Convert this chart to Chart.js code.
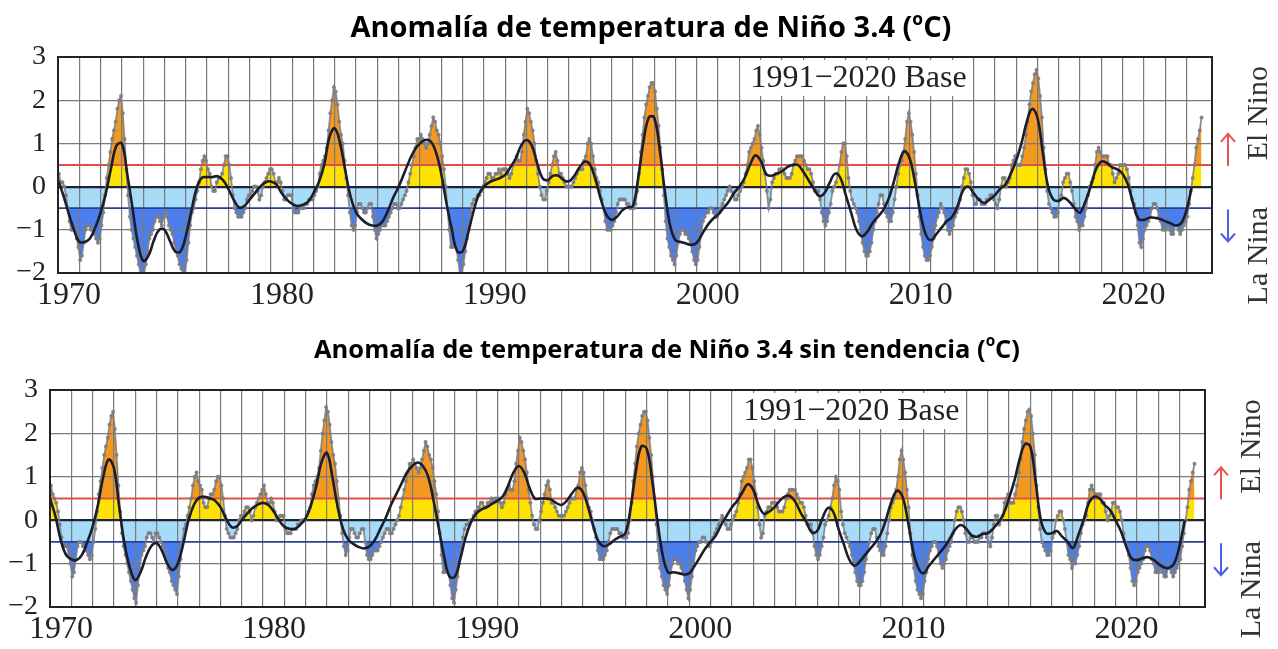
<!DOCTYPE html>
<html lang="es">
<head>
<meta charset="UTF-8">
<title>Anomalía de temperatura de Niño 3.4</title>
<script src="https://cdn.jsdelivr.net/npm/chart.js"></script>
<style>
  body { margin: 0; background: #fff; }
  .wrap { position: relative; width: 1278px; height: 649px; overflow: hidden; }
  canvas { position: absolute; left: 0; }
  .title { position: absolute; transform: translateX(-50%); white-space: nowrap;
           font-family: "Open Sans", Lato, sans-serif; font-weight: 700; line-height: 1; color: #000; }
  .title sup { font-size: 0.6em; position: relative; top: -0.1em; }
</style>
</head>
<body>
<div class="wrap">
  <canvas id="topChart" width="1278" height="322" style="top:0"></canvas>
  <canvas id="detrChart" width="1278" height="327" style="top:322px"></canvas>
  <div class="title" style="left:651px; top:11px; font-size:29px">Anomalía de temperatura de Niño 3.4 (<sup>o</sup>C)</div>
  <div class="title" style="left:667px; top:335px; font-size:25.5px">Anomalía de temperatura de Niño 3.4 sin tendencia (<sup>o</sup>C)</div>
</div>
<script>
// monthly anomalies, Jan 1970 .. Sep 2023 (grey dots), one row per year
const monthStart = 1970;
const rawTop = [
  0.3,0.1,0.1,0.0,-0.2,-0.5,-0.8,-1.0,-1.0,-1.0,-1.2,-1.4,
  -1.7,-1.6,-1.3,-1.0,-0.9,-0.9,-1.0,-1.0,-1.1,-1.2,-1.3,-1.2,
  -0.9,-0.6,-0.2,0.2,0.5,0.8,1.1,1.3,1.5,1.8,2.0,2.1,
  1.7,1.1,0.4,-0.2,-0.7,-1.0,-1.2,-1.4,-1.6,-1.8,-2.0,-2.1,
  -2.0,-1.8,-1.5,-1.2,-1.1,-1.0,-0.8,-0.7,-0.7,-0.8,-0.9,-0.7,
  -0.6,-0.7,-0.9,-1.0,-1.1,-1.3,-1.5,-1.6,-1.8,-1.9,-2.0,-2.0,
  -1.7,-1.3,-0.9,-0.6,-0.5,-0.3,-0.1,0.1,0.4,0.6,0.7,0.6,
  0.4,0.3,0.0,-0.1,-0.1,0.1,0.2,0.2,0.3,0.5,0.7,0.7,
  0.5,0.2,-0.2,-0.5,-0.6,-0.7,-0.7,-0.7,-0.6,-0.5,-0.3,-0.2,
  -0.2,-0.1,0.0,0.0,-0.1,-0.3,-0.2,0.0,0.1,0.2,0.3,0.4,
  0.4,0.3,0.1,0.1,0.2,0.1,-0.1,-0.3,-0.3,-0.2,-0.2,-0.2,
  -0.5,-0.6,-0.6,-0.6,-0.5,-0.5,-0.5,-0.4,-0.4,-0.3,-0.3,-0.3,
  -0.2,-0.1,0.0,0.3,0.5,0.6,0.7,0.9,1.3,1.7,2.0,2.3,
  2.2,1.9,1.5,1.2,1.0,0.6,0.2,-0.2,-0.6,-0.9,-1.0,-0.9,
  -0.6,-0.4,-0.4,-0.5,-0.6,-0.6,-0.5,-0.4,-0.4,-0.7,-1.0,-1.2,
  -1.1,-1.0,-0.9,-0.9,-0.9,-0.8,-0.7,-0.6,-0.5,-0.4,-0.4,-0.5,
  -0.5,-0.4,-0.3,-0.2,-0.1,0.1,0.3,0.5,0.7,0.9,1.1,1.1,
  1.2,1.1,1.0,0.9,1.0,1.2,1.4,1.6,1.5,1.3,1.2,1.0,
  0.7,0.4,0.0,-0.5,-1.0,-1.4,-1.4,-1.3,-1.4,-1.7,-2.0,-2.0,
  -1.8,-1.5,-1.2,-0.9,-0.6,-0.4,-0.3,-0.3,-0.2,-0.2,-0.1,0.0,
  0.1,0.2,0.3,0.3,0.2,0.2,0.3,0.3,0.4,0.3,0.4,0.4,
  0.4,0.3,0.2,0.3,0.5,0.6,0.7,0.6,0.6,0.8,1.2,1.5,
  1.8,1.7,1.5,1.3,1.0,0.6,0.3,0.0,-0.2,-0.3,-0.3,-0.1,
  0.1,0.3,0.5,0.7,0.8,0.6,0.3,0.3,0.2,0.1,0.0,0.0,
  0.0,0.0,0.1,0.2,0.3,0.4,0.4,0.4,0.6,0.7,1.0,1.1,
  1.0,0.7,0.4,0.2,0.1,-0.1,-0.3,-0.5,-0.8,-1.0,-1.0,-1.0,
  -0.9,-0.8,-0.6,-0.4,-0.3,-0.3,-0.3,-0.3,-0.4,-0.4,-0.5,-0.5,
  -0.5,-0.4,-0.1,0.3,0.8,1.2,1.6,1.9,2.1,2.3,2.4,2.4,
  2.2,1.8,1.4,0.9,0.4,-0.2,-0.8,-1.2,-1.4,-1.6,-1.7,-1.8,
  -1.6,-1.3,-1.1,-1.0,-1.0,-1.1,-1.1,-1.2,-1.3,-1.5,-1.7,-1.8,
  -1.7,-1.4,-1.1,-0.8,-0.7,-0.6,-0.6,-0.5,-0.5,-0.6,-0.7,-0.7,
  -0.6,-0.5,-0.4,-0.3,-0.2,-0.1,0.0,-0.1,-0.2,-0.3,-0.3,-0.2,
  -0.1,0.0,0.1,0.3,0.5,0.8,0.9,1.0,1.1,1.3,1.4,1.2,
  0.9,0.6,0.3,-0.1,-0.5,-0.3,0.1,0.2,0.3,0.3,0.4,0.4,
  0.4,0.3,0.2,0.2,0.2,0.3,0.5,0.6,0.7,0.7,0.7,0.7,
  0.6,0.5,0.4,0.4,0.3,0.1,-0.1,-0.1,-0.1,-0.3,-0.6,-0.8,
  -0.9,-0.8,-0.6,-0.4,-0.1,0.0,0.1,0.3,0.5,0.8,1.0,1.0,
  0.7,0.2,-0.1,-0.3,-0.4,-0.5,-0.6,-0.8,-1.1,-1.3,-1.5,-1.6,
  -1.6,-1.5,-1.3,-1.0,-0.8,-0.6,-0.4,-0.2,-0.2,-0.4,-0.6,-0.7,
  -0.8,-0.8,-0.6,-0.3,0.0,0.3,0.5,0.6,0.8,1.1,1.5,1.7,
  1.5,1.2,0.8,0.3,-0.2,-0.7,-1.1,-1.4,-1.6,-1.7,-1.7,-1.6,
  -1.4,-1.2,-0.9,-0.7,-0.6,-0.4,-0.5,-0.6,-0.8,-1.0,-1.1,-1.0,
  -0.9,-0.7,-0.6,-0.5,-0.3,0.0,0.2,0.4,0.4,0.3,0.1,-0.2,
  -0.4,-0.4,-0.3,-0.3,-0.4,-0.4,-0.4,-0.3,-0.3,-0.2,-0.2,-0.3,
  -0.4,-0.5,-0.3,0.0,0.2,0.2,0.0,0.1,0.2,0.5,0.6,0.7,
  0.5,0.5,0.5,0.7,0.9,1.2,1.5,1.9,2.2,2.4,2.6,2.7,
  2.5,2.1,1.6,0.9,0.4,-0.1,-0.4,-0.5,-0.6,-0.7,-0.7,-0.6,
  -0.3,-0.2,0.1,0.2,0.3,0.3,0.1,-0.1,-0.4,-0.7,-0.8,-1.0,
  -0.9,-0.9,-0.7,-0.5,-0.2,0.0,0.1,0.2,0.5,0.8,0.9,0.8,
  0.7,0.7,0.7,0.7,0.5,0.5,0.3,0.1,0.2,0.3,0.5,0.5,
  0.5,0.5,0.4,0.2,-0.1,-0.3,-0.4,-0.6,-0.9,-1.3,-1.4,-1.2,
  -1.0,-0.9,-0.8,-0.7,-0.5,-0.4,-0.4,-0.5,-0.7,-0.8,-1.0,-1.0,
  -1.0,-0.9,-1.0,-1.1,-1.1,-0.9,-0.9,-1.0,-1.1,-1.0,-0.9,-0.8,
  -0.7,-0.4,-0.1,0.2,0.5,0.9,1.1,1.3,1.6
];
const rawDetr = [
  0.8,0.6,0.5,0.4,0.2,-0.1,-0.4,-0.6,-0.6,-0.6,-0.8,-1.0,
  -1.3,-1.2,-0.9,-0.6,-0.5,-0.5,-0.6,-0.6,-0.7,-0.8,-0.9,-0.8,
  -0.5,-0.2,0.2,0.6,0.9,1.2,1.5,1.7,1.9,2.2,2.4,2.5,
  2.1,1.5,0.8,0.2,-0.3,-0.6,-0.8,-1.0,-1.2,-1.4,-1.6,-1.8,
  -1.9,-1.5,-1.1,-0.8,-0.7,-0.6,-0.4,-0.3,-0.3,-0.4,-0.5,-0.3,
  -0.3,-0.4,-0.5,-0.6,-0.7,-0.9,-1.1,-1.2,-1.4,-1.5,-1.6,-1.7,
  -1.3,-0.9,-0.5,-0.2,-0.1,0.1,0.3,0.5,0.8,1.0,1.1,0.9,
  0.8,0.7,0.4,0.3,0.3,0.5,0.6,0.6,0.7,0.9,1.0,1.0,
  0.8,0.5,0.1,-0.2,-0.3,-0.4,-0.4,-0.4,-0.3,-0.2,0.0,0.1,
  0.1,0.2,0.3,0.3,0.2,0.0,0.1,0.3,0.4,0.5,0.6,0.7,
  0.8,0.6,0.4,0.4,0.5,0.4,0.2,0.0,0.0,0.1,0.1,0.1,
  -0.2,-0.3,-0.3,-0.3,-0.2,-0.2,-0.2,-0.1,-0.1,0.0,0.0,0.0,
  0.1,0.2,0.3,0.6,0.8,0.9,1.0,1.2,1.6,2.0,2.3,2.6,
  2.5,2.2,1.8,1.5,1.3,0.9,0.5,0.1,-0.3,-0.6,-0.8,-0.7,
  -0.4,-0.2,-0.2,-0.3,-0.4,-0.4,-0.3,-0.2,-0.2,-0.5,-0.8,-0.9,
  -0.9,-0.8,-0.7,-0.7,-0.7,-0.6,-0.5,-0.4,-0.3,-0.2,-0.2,-0.3,
  -0.3,-0.2,-0.1,0.0,0.1,0.3,0.5,0.7,0.9,1.1,1.3,1.3,
  1.4,1.3,1.2,1.1,1.2,1.4,1.6,1.8,1.7,1.5,1.4,1.2,
  0.9,0.6,0.2,-0.3,-0.8,-1.2,-1.2,-1.1,-1.2,-1.5,-1.8,-1.9,
  -1.6,-1.3,-1.0,-0.7,-0.4,-0.2,-0.1,-0.1,0.0,0.0,0.1,0.2,
  0.2,0.3,0.4,0.4,0.3,0.3,0.4,0.4,0.5,0.4,0.5,0.5,
  0.5,0.4,0.3,0.4,0.6,0.7,0.8,0.7,0.7,0.9,1.3,1.6,
  1.9,1.8,1.6,1.4,1.1,0.7,0.4,0.1,-0.1,-0.2,-0.2,0.0,
  0.2,0.4,0.6,0.8,0.9,0.7,0.4,0.4,0.3,0.2,0.1,0.1,
  0.1,0.1,0.2,0.3,0.4,0.5,0.5,0.5,0.7,0.8,1.1,1.2,
  1.1,0.8,0.5,0.3,0.2,0.0,-0.2,-0.4,-0.7,-0.9,-0.9,-0.9,
  -0.8,-0.7,-0.5,-0.3,-0.2,-0.2,-0.2,-0.2,-0.3,-0.3,-0.4,-0.4,
  -0.4,-0.3,0.0,0.4,0.9,1.3,1.7,2.0,2.2,2.4,2.5,2.5,
  2.3,1.9,1.5,1.0,0.5,-0.1,-0.7,-1.1,-1.3,-1.5,-1.6,-1.7,
  -1.5,-1.2,-1.0,-0.9,-0.9,-1.0,-1.0,-1.1,-1.2,-1.4,-1.6,-1.8,
  -1.6,-1.3,-1.0,-0.7,-0.6,-0.5,-0.5,-0.4,-0.4,-0.5,-0.6,-0.6,
  -0.5,-0.4,-0.3,-0.2,-0.1,0.0,0.1,0.0,-0.1,-0.2,-0.2,-0.1,
  0.0,0.1,0.2,0.4,0.6,0.9,1.0,1.1,1.2,1.4,1.4,1.2,
  0.9,0.6,0.3,-0.1,-0.4,-0.3,0.1,0.2,0.3,0.3,0.4,0.4,
  0.4,0.3,0.2,0.2,0.2,0.3,0.5,0.6,0.7,0.7,0.7,0.7,
  0.6,0.5,0.4,0.4,0.3,0.1,-0.1,-0.1,-0.1,-0.3,-0.6,-0.8,
  -0.9,-0.8,-0.6,-0.4,-0.1,0.0,0.1,0.3,0.5,0.8,1.0,0.9,
  0.7,0.2,-0.1,-0.3,-0.4,-0.5,-0.6,-0.8,-1.0,-1.2,-1.4,-1.5,
  -1.5,-1.4,-1.2,-0.9,-0.7,-0.5,-0.3,-0.2,-0.2,-0.4,-0.6,-0.7,
  -0.8,-0.8,-0.6,-0.3,0.0,0.3,0.4,0.5,0.7,1.0,1.4,1.6,
  1.4,1.1,0.7,0.3,-0.3,-0.8,-1.1,-1.4,-1.6,-1.7,-1.8,-1.7,
  -1.4,-1.2,-0.9,-0.7,-0.6,-0.5,-0.5,-0.6,-0.8,-1.0,-1.1,-1.0,
  -0.9,-0.7,-0.6,-0.5,-0.3,0.0,0.2,0.3,0.3,0.2,0.0,-0.3,
  -0.5,-0.5,-0.4,-0.4,-0.5,-0.5,-0.5,-0.4,-0.4,-0.3,-0.3,-0.4,
  -0.5,-0.6,-0.4,-0.1,0.1,0.1,-0.1,0.0,0.1,0.4,0.5,0.6,
  0.4,0.4,0.4,0.6,0.8,1.1,1.4,1.8,2.1,2.3,2.5,2.55,
  2.4,2.0,1.5,0.8,0.3,-0.2,-0.5,-0.6,-0.7,-0.8,-0.8,-0.7,
  -0.4,-0.3,0.0,0.1,0.2,0.2,0.0,-0.2,-0.5,-0.8,-0.9,-1.1,
  -1.0,-1.0,-0.8,-0.6,-0.3,-0.1,0.0,0.1,0.4,0.7,0.8,0.7,
  0.6,0.6,0.6,0.6,0.4,0.4,0.2,0.0,0.1,0.2,0.4,0.4,
  0.3,0.3,0.2,0.0,-0.3,-0.5,-0.6,-0.8,-1.1,-1.4,-1.5,-1.4,
  -1.2,-1.1,-1.0,-0.9,-0.7,-0.6,-0.6,-0.7,-0.9,-1.0,-1.2,-1.2,
  -1.2,-1.1,-1.2,-1.3,-1.3,-1.1,-1.1,-1.2,-1.3,-1.2,-1.1,-1.0,
  -0.9,-0.6,-0.3,0.0,0.3,0.7,0.9,1.1,1.3
];

// smoothed curve (black line), quarterly from 1970.0, one row per year
const quarterStart = 1970;
const smoothTop = [
  0.15,-0.2,-0.62,-1.0,   -1.28,-1.28,-1.2,-0.95,   -0.6,-0.15,0.45,0.95,   1.0,0.3,-0.5,-1.3,
  -1.72,-1.6,-1.25,-1.0,  -1.0,-1.25,-1.5,-1.5,     -1.15,-0.6,-0.05,0.2,   0.22,0.22,0.24,0.15,
  -0.05,-0.3,-0.48,-0.45, -0.3,-0.15,0.0,0.1,
  0.12,0.05,-0.15,-0.3,   -0.4,-0.45,-0.42,-0.35,   -0.15,0.1,0.5,1.15,     1.35,1.0,0.35,-0.25,
  -0.6,-0.75,-0.85,-0.9,  -0.9,-0.8,-0.55,-0.25,    0.0,0.3,0.6,0.85,       1.0,1.08,1.05,0.8,
  0.3,-0.4,-1.0,-1.5,     -1.5,-1.1,-0.6,-0.2,
  0.0,0.1,0.15,0.2,       0.27,0.45,0.65,0.95,      1.08,0.95,0.55,0.2,     0.15,0.25,0.25,0.15,
  0.12,0.25,0.45,0.58,    0.5,0.15,-0.3,-0.65,      -0.77,-0.7,-0.55,-0.48, -0.45,0.2,1.05,1.6,
  1.6,0.9,-0.1,-0.9,      -1.24,-1.28,-1.32,-1.35,
  -1.3,-1.1,-0.9,-0.75,   -0.65,-0.5,-0.35,-0.15,   0.0,0.2,0.5,0.72,       0.6,0.3,0.25,0.3,
  0.35,0.45,0.5,0.5,      0.35,0.15,-0.05,-0.22,    -0.15,0.1,0.3,0.2,      -0.2,-0.6,-1.0,-1.15,
  -1.05,-0.85,-0.7,-0.55, -0.3,0.1,0.55,0.82,
  0.65,0.1,-0.6,-1.1,     -1.24,-1.1,-0.95,-0.8,    -0.7,-0.45,-0.1,0.0,    -0.15,-0.3,-0.38,-0.3,
  -0.2,-0.05,0.05,0.3,    0.6,1.0,1.5,1.8,          1.6,0.8,0.0,-0.3,       -0.33,-0.26,-0.35,-0.5,
  -0.6,-0.35,0.0,0.4,     0.58,0.55,0.45,0.4,
  0.3,0.05,-0.4,-0.75,    -0.77,-0.72,-0.72,-0.75,  -0.8,-0.85,-0.9,-0.85,  -0.55,0.0
];
const smoothDetr = [
  0.5,0.1,-0.45,-0.8,     -0.9,-0.92,-0.8,-0.5,     -0.15,0.35,1.0,1.4,     1.2,0.3,-0.55,-1.1,
  -1.38,-1.2,-0.85,-0.6,  -0.53,-0.7,-1.0,-1.15,    -1.0,-0.55,0.0,0.35,    0.52,0.54,0.5,0.45,
  0.3,0.05,-0.15,-0.15,   0.0,0.15,0.28,0.36,
  0.4,0.35,0.2,0.0,       -0.15,-0.2,-0.2,-0.1,     0.05,0.35,0.8,1.35,     1.55,1.0,0.3,-0.2,
  -0.45,-0.55,-0.62,-0.65,-0.6,-0.45,-0.2,0.05,     0.35,0.6,0.85,1.1,      1.25,1.33,1.25,1.0,
  0.45,-0.2,-0.85,-1.3,   -1.3,-0.9,-0.4,-0.05,
  0.15,0.25,0.3,0.38,     0.45,0.55,0.8,1.1,        1.25,1.1,0.75,0.5,      0.5,0.5,0.48,0.4,
  0.35,0.45,0.62,0.75,    0.65,0.3,-0.15,-0.5,      -0.6,-0.55,-0.45,-0.38, -0.3,0.3,1.15,1.7,
  1.65,0.95,0.0,-0.8,     -1.2,-1.2,-1.22,-1.25,
  -1.22,-1.05,-0.85,-0.65,-0.5,-0.35,-0.1,0.1,      0.3,0.45,0.65,0.83,     0.7,0.35,0.15,0.2,
  0.3,0.45,0.55,0.55,     0.4,0.15,-0.05,-0.28,     -0.25,0.05,0.28,0.2,    -0.2,-0.55,-0.9,-1.05,
  -0.95,-0.8,-0.65,-0.5,  -0.3,0.05,0.45,0.68,
  0.55,0.0,-0.7,-1.1,     -1.22,-1.05,-0.9,-0.75,   -0.6,-0.4,-0.2,-0.11,   -0.2,-0.35,-0.38,-0.32,
  -0.3,-0.2,-0.05,0.15,   0.5,0.9,1.4,1.75,         1.7,0.9,0.0,-0.3,       -0.3,-0.25,-0.38,-0.5,
  -0.64,-0.35,0.0,0.4,    0.54,0.5,0.35,0.23,
  0.0,-0.25,-0.6,-0.88,   -0.92,-0.88,-0.85,-0.9,   -1.0,-1.08,-1.1,-1.0,   -0.6,0.0
];

const thresholds = [0.5, -0.5];
const xTickLabels = ['1970', '1980', '1990', '2000', '2010', '2020'];
const yTickLabels = ['−2', '−1', '0', '1', '2', '3'];

const xMin = 1970, xMax = 2024.2;
const colors = { orange: '#f4991f', yellow: '#ffe200', light: '#a6dcf7', blue: '#4b7fee' };
const serif = '"Liberation Serif", "DejaVu Serif", serif';

// text, frame and arrows that sit on the plot
const decor = {
  id: 'decor',
  beforeDatasetsDraw(chart) {
    const { ctx, scales: { x, y } } = chart;
    const l = x.getPixelForValue(2002.05), r = x.getPixelForValue(2012.85);
    const t = y.getPixelForValue(2.93), b = y.getPixelForValue(2.1);
    ctx.save();
    ctx.fillStyle = '#fff';
    ctx.fillRect(l, t, r - l, b - t);
    ctx.fillStyle = '#222';
    ctx.font = '32px ' + serif;
    ctx.textAlign = 'center';
    ctx.textBaseline = 'middle';
    ctx.fillText('1991−2020 Base', x.getPixelForValue(2007.6), y.getPixelForValue(2.5));
    ctx.restore();
  },
  afterDatasetsDraw(chart) {
    const { ctx, chartArea: a, scales: { y } } = chart;
    ctx.save();
    ctx.strokeStyle = '#222';
    ctx.lineWidth = 2;
    ctx.strokeRect(a.left, a.top, a.right - a.left, a.bottom - a.top);

    const side = (txt, v) => {
      ctx.save();
      ctx.translate(a.right + 47, y.getPixelForValue(v));
      ctx.rotate(-Math.PI / 2);
      ctx.fillStyle = '#333';
      ctx.font = '30px ' + serif;
      ctx.textAlign = 'center';
      ctx.textBaseline = 'middle';
      ctx.fillText(txt, 0, 0);
      ctx.restore();
    };
    side('El Nino', 1.7);
    side('La Nina', -1.6);

    const arrow = (v, dir, col) => {
      const cx = a.right + 16, cy = y.getPixelForValue(v);
      const tip = cy - dir * 16, tail = cy + dir * 16;
      ctx.strokeStyle = col;
      ctx.lineWidth = 2;
      ctx.beginPath();
      ctx.moveTo(cx, tail); ctx.lineTo(cx, tip);
      ctx.moveTo(cx - 7, tip + dir * 8); ctx.lineTo(cx, tip); ctx.lineTo(cx + 7, tip + dir * 8);
      ctx.stroke();
    };
    arrow(0.85, 1, '#e8554e');
    arrow(-0.9, -1, '#4a5fe6');
    ctx.restore();
  }
};

function makeChart(id, raw, smooth, box) {
  const rawPts = raw.map((v, i) => ({ x: monthStart + (i + 0.5) / 12, y: v }));
  const smoothPts = smooth.map((v, i) => ({ x: quarterStart + i / 4, y: v }));
  const flat = v => [{ x: xMin, y: v }, { x: xMax, y: v }];
  const fillSet = fill => ({ data: rawPts, borderWidth: 0, pointRadius: 0, fill });
  const none = 'rgba(0,0,0,0)';

  return new Chart(document.getElementById(id), {
    type: 'line',
    data: {
      datasets: [
        { data: smoothPts, borderColor: '#1b1d2b', borderWidth: 2.6, pointRadius: 0, tension: 0.4 },
        { data: rawPts, borderColor: 'rgba(125,125,132,0.85)', borderWidth: 1.8,
          pointRadius: 2, pointBorderWidth: 0, pointBackgroundColor: 'rgba(125,125,132,0.9)' },
        { data: flat(thresholds[0]), borderColor: '#e0504a', borderWidth: 1.8, pointRadius: 0 },
        { data: flat(thresholds[1]), borderColor: '#2c3e95', borderWidth: 1.8, pointRadius: 0 },
        fillSet({ target: { value: thresholds[0] }, above: colors.orange, below: none }),
        fillSet({ target: { value: thresholds[1] }, above: none, below: colors.blue }),
        fillSet({ target: { value: 0 }, above: colors.yellow, below: colors.light })
      ]
    },
    options: {
      responsive: false,
      animation: false,
      devicePixelRatio: 1,
      layout: { padding: { top: box.top, right: box.right, left: 0, bottom: 0 } },
      plugins: { legend: { display: false }, tooltip: { enabled: false }, filler: { drawTime: 'beforeDraw' } },
      scales: {
        x: {
          type: 'linear', min: xMin, max: xMax,
          afterFit: s => { s.height = box.xHeight; },
          border: { display: false },
          grid: { color: '#7a7a7a', lineWidth: 1.2, drawTicks: false },
          ticks: {
            stepSize: 1, autoSkip: false, maxRotation: 0, labelOffset: 11, padding: 3,
            color: '#222', font: { family: serif, size: 32 },
            callback: v => xTickLabels.includes(String(v)) ? String(v) : ''
          }
        },
        y: {
          min: -2, max: 3,
          afterFit: s => { s.width = box.yWidth; },
          border: { display: false },
          grid: {
            drawTicks: false,
            color: c => c.tick.value === 0 ? '#1e2436' : '#7a7a7a',
            lineWidth: c => c.tick.value === 0 ? 2.2 : 1.2
          },
          ticks: {
            stepSize: 1, padding: 12, color: '#222', font: { family: serif, size: 28 },
            callback: v => yTickLabels[v + 2]
          }
        }
      }
    },
    plugins: [decor]
  });
}

makeChart('topChart', rawTop, smoothTop, { top: 57, right: 66, xHeight: 49, yWidth: 58 });
makeChart('detrChart', rawDetr, smoothDetr, { top: 68, right: 73, xHeight: 42, yWidth: 50 });
</script>
</body>
</html>
